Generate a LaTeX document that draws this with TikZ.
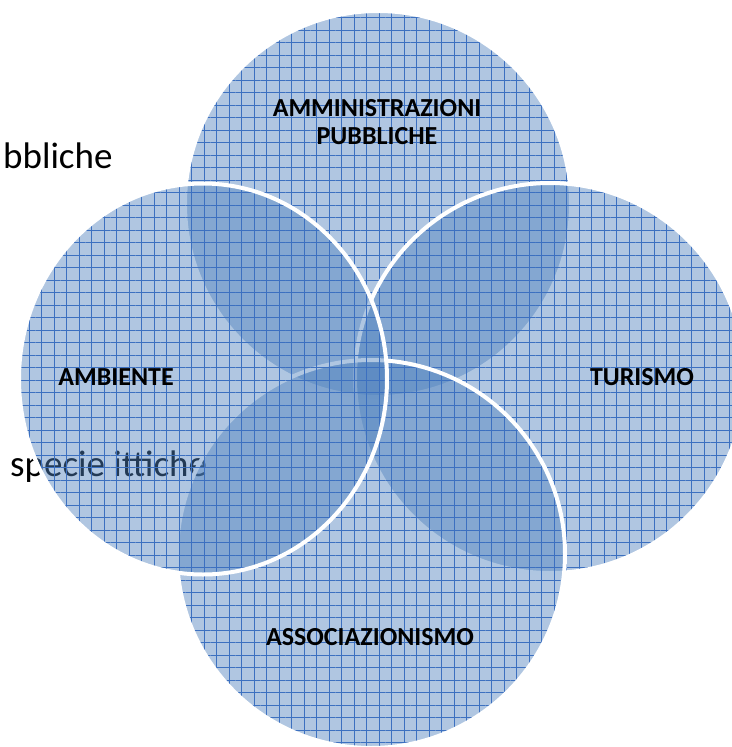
\documentclass[tikz,border=0pt]{standalone}
\usepackage{fontspec}
\setmainfont{Carlito}
\usetikzlibrary{patterns.meta,shapes.geometric}
\definecolor{vennblue}{RGB}{79,129,189}
\definecolor{gridblue}{RGB}{60,112,192}
\begin{document}
\begin{tikzpicture}[x=1pt,y=-1pt,
venn/.style={ellipse,inner sep=0pt,draw=white,line width=4pt,
  preaction={fill=vennblue,fill opacity=.45},
  preaction={pattern={Hatch[distance=12.5pt,xshift=4pt,yshift=4pt,line width=1pt]},pattern color=gridblue,fill opacity=.45}},
lbl/.style={font=\bfseries\fontsize{26}{28}\selectfont,align=center},
frag/.style={font=\fontsize{37}{40}\selectfont,anchor=base west,inner sep=0pt}]
\useasboundingbox(0,0)rectangle(731,747);
% text left behind the circles
\node[frag](fragpubb)at(3,168){bbliche};
\node[frag](fragspec)at(10,476){specie ittiche};
% the four sets
\node[venn,minimum width=386pt,minimum height=386pt](pubb)at(378,204){};
\node[venn,minimum width=390pt,minimum height=390pt](tur)at(550,378){};
\node[venn,minimum width=388pt,minimum height=388pt](assoc)at(371,554){};
\node[venn,minimum width=368pt,minimum height=391pt](amb)at(203,379){};
\node[lbl](lpubb)at(377,122){AMMINISTRAZIONI\\PUBBLICHE};
\node[lbl](ltur)at(642,377){TURISMO};
\node[lbl](lamb)at(116,377){AMBIENTE};
\node[lbl](lassoc)at(370,637){ASSOCIAZIONISMO};
\end{tikzpicture}
\end{document}
